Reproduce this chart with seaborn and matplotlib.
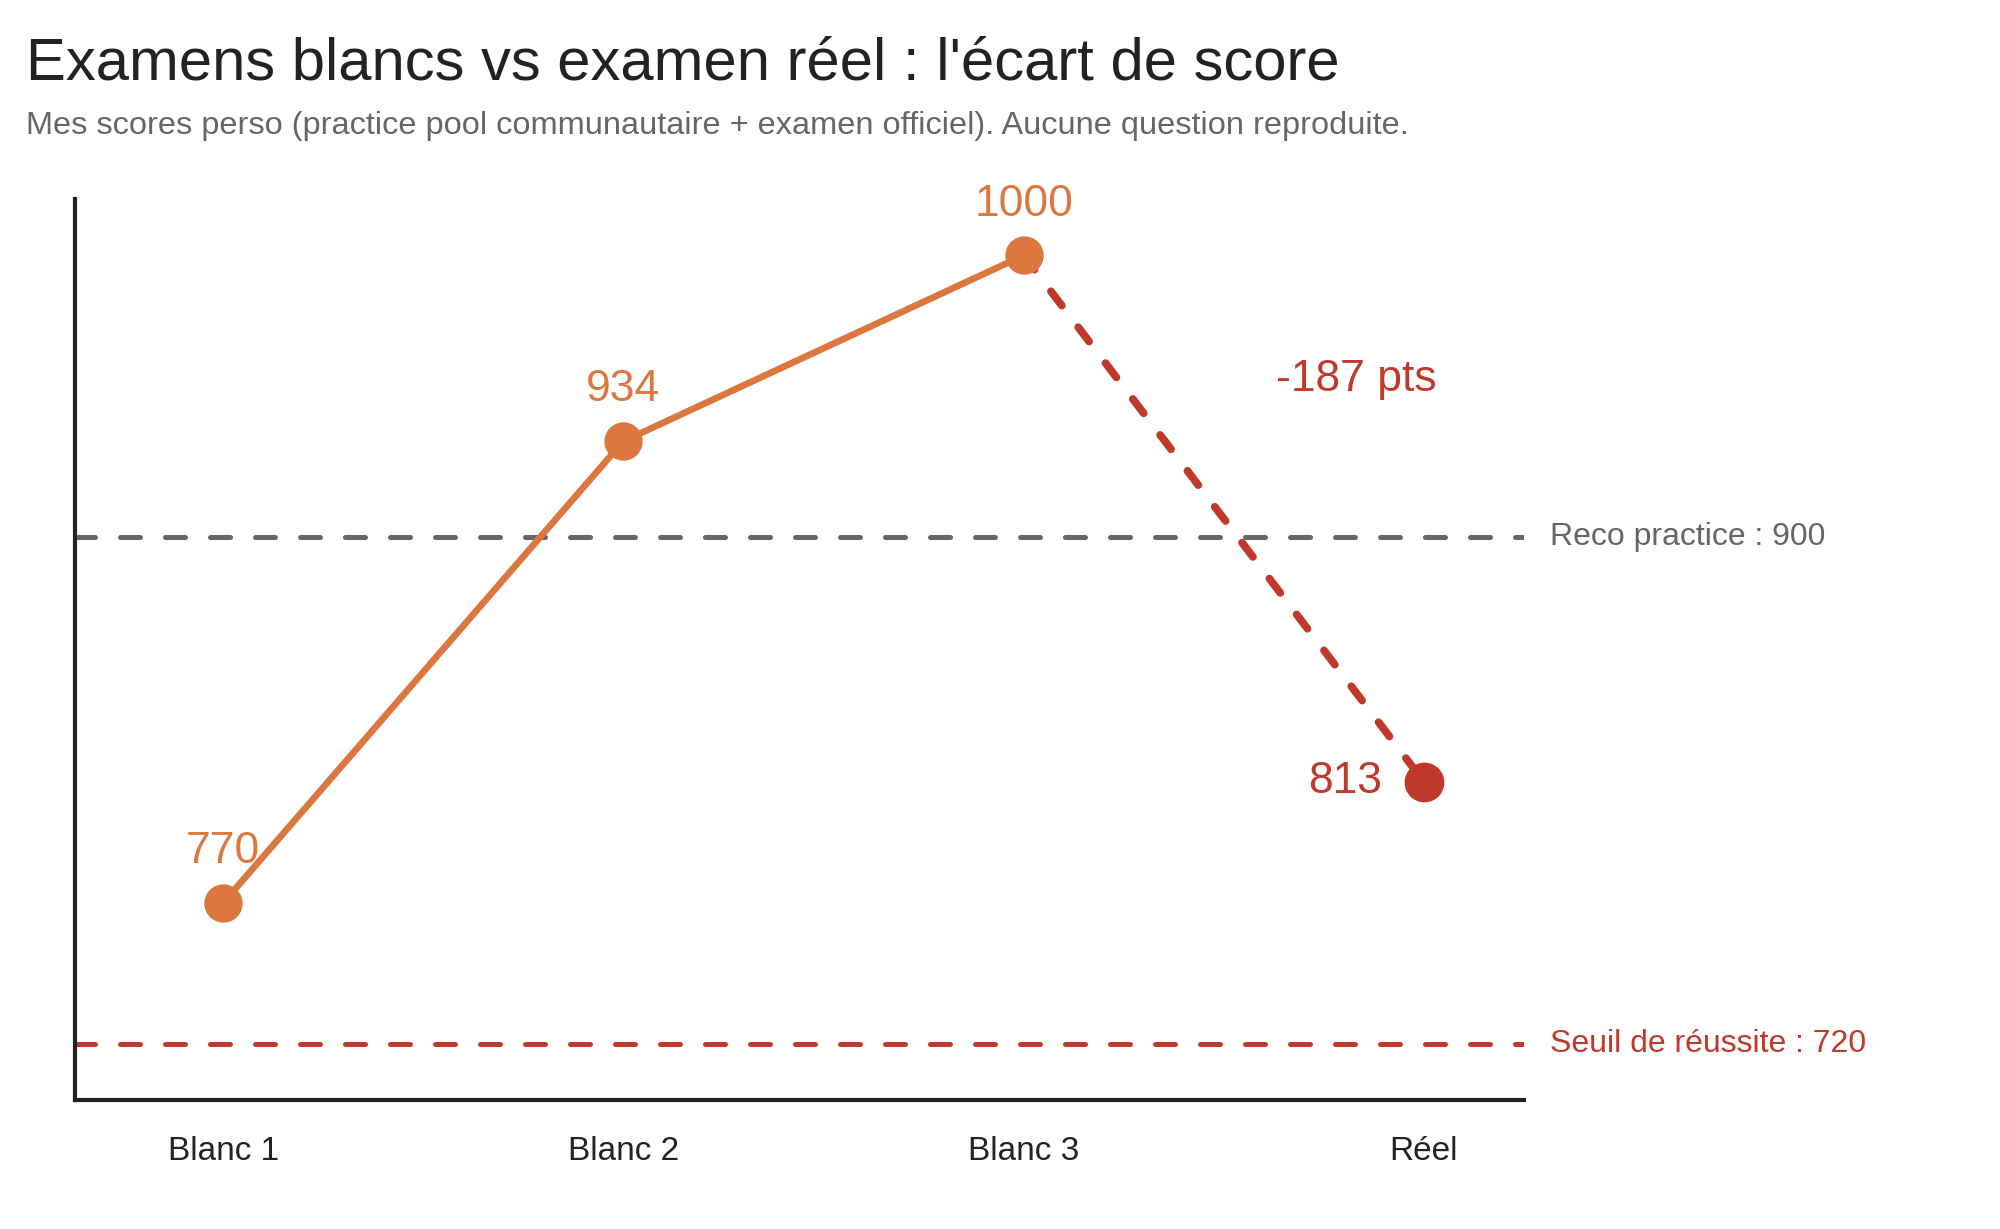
import numpy as np
import pandas as pd
import seaborn as sns
import matplotlib.pyplot as plt

# data
categories = ['Blanc 1', 'Blanc 2', 'Blanc 3', 'Réel']
scores = [770, 934, 1000, 813]
reco_practice = 900
pass_mark = 720
gap_label = '-187 pts'

ORANGE = '#DB773F'
RED = '#C0392B'
GREY = '#666666'
DARK = '#222222'

sns.set_theme(style='white')
plt.rcParams['font.family'] = ['Liberation Sans', 'DejaVu Sans']

df = pd.DataFrame({'exam': categories, 'score': scores})
df['pos'] = np.arange(len(df))
df_blancs = df.iloc[:3]
df_gap = df.iloc[2:]

fig = plt.figure(figsize=(10, 6.145), dpi=200)
ax = fig.add_axes([0.0375, 0.105, 0.7245, 0.733])

# reference lines
ax.axhline(reco_practice, color=GREY, lw=1.8, ls=(0, (4, 5)),
           dash_capstyle='round', zorder=1)
ax.axhline(pass_mark, color=RED, lw=1.8, ls=(0, (4, 5)),
           dash_capstyle='round', zorder=1)

# drop from last practice exam to real exam
sns.lineplot(data=df_gap, x='pos', y='score', ax=ax, color=RED, lw=2.8,
             zorder=2)
gap_line = ax.lines[-1]
gap_line.set_dashes((2.3, 3.5))
gap_line.set_dash_capstyle('round')

sns.lineplot(data=df_blancs, x='pos', y='score', ax=ax, color=ORANGE, lw=2.4,
             marker='o', markersize=13.8, markeredgewidth=0, zorder=3)
sns.scatterplot(data=df.iloc[3:], x='pos', y='score', ax=ax, color=RED,
                s=205, linewidth=0, zorder=4)

for _, row in df_blancs.iterrows():
    ax.annotate(str(row['score']), (row['pos'], row['score']),
                xytext=(0, 18.5), textcoords='offset points',
                ha='center', va='center', fontsize=16, color=ORANGE)
last = df.iloc[3]
ax.annotate(str(last['score']), (last['pos'], last['score']),
            xytext=(-15, 0), textcoords='offset points',
            ha='right', va='center', fontsize=16, color=RED)

ax.text(2.83, 956, gap_label, ha='center', va='center', fontsize=16, color=RED)

trans = ax.get_yaxis_transform()
ax.text(1.018, reco_practice, f'Reco practice : {reco_practice}', transform=trans,
        ha='left', va='center', fontsize=11.5, color=GREY)
ax.text(1.018, pass_mark, f'Seuil de réussite : {pass_mark}', transform=trans,
        ha='left', va='center', fontsize=11.5, color=RED)

ax.set_xlim(-0.37, 3.25)
ax.set_ylim(700, 1020)
ax.set_xticks(df['pos'])
ax.set_xticklabels(categories, fontsize=12, color=DARK)
ax.set_yticks([])
ax.tick_params(axis='x', length=0, pad=13)
ax.set_xlabel('')
ax.set_ylabel('')
sns.despine(ax=ax)
for side in ['left', 'bottom']:
    ax.spines[side].set_color(DARK)
    ax.spines[side].set_linewidth(1.5)

fig.text(0.013, 0.935, "Examens blancs vs examen réel : l'écart de score",
         fontsize=21.5, color=DARK, ha='left', va='baseline')
fig.text(0.013, 0.891,
         'Mes scores perso (practice pool communautaire + examen officiel). '
         'Aucune question reproduite.',
         fontsize=11.7, color=GREY, ha='left', va='baseline')

fig.savefig('out.png', dpi=200, facecolor='white')
